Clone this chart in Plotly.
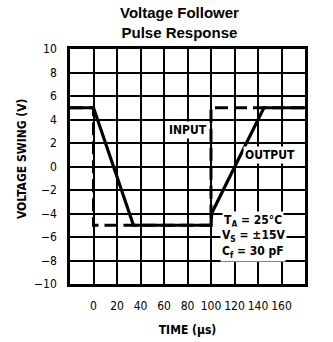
import plotly.graph_objects as go

# Data (time in microseconds, voltage in V)
input_t = [-20, 0, 0, 100, 100, 180]
input_v = [5, 5, -5, -5, 5, 5]
output_t = [-20, 0, 34, 100, 100.5, 145, 180]
output_v = [5, 5, -5, -5, -4, 5, 5]
x_ticks = [0, 20, 40, 60, 80, 100, 120, 140, 160]
y_ticks = [-10, -8, -6, -4, -2, 0, 2, 4, 6, 8, 10]

FONT = "DejaVu Sans Condensed, Liberation Sans Narrow, sans-serif"

fig = go.Figure()
fig.add_trace(go.Scatter(x=input_t, y=input_v, mode="lines",
                         line=dict(color="black", width=3, dash="13px,6px"),
                         hoverinfo="skip", showlegend=False))
fig.add_trace(go.Scatter(x=output_t, y=output_v, mode="lines",
                         line=dict(color="black", width=3.2),
                         hoverinfo="skip", showlegend=False))

fig.update_layout(
    width=333, height=342,
    margin=dict(l=70, r=28, t=49, b=58, autoexpand=False),
    paper_bgcolor="white", plot_bgcolor="white",
    font=dict(family=FONT, color="black", size=12),
    xaxis=dict(range=[-20, 180], tickvals=x_ticks, showgrid=True,
               gridcolor="black", gridwidth=1.6, zeroline=False,
               showline=True, linecolor="black", linewidth=2.5, mirror=True,
               ticks="outside", ticklen=9, tickcolor="rgba(0,0,0,0)",
               tickangle=0, automargin=False,
               tickfont=dict(family=FONT, size=12, color="black"),
               title=dict(text="<b>TIME (µs)</b>", standoff=14,
                          font=dict(family=FONT, size=12, color="black"))),
    yaxis=dict(range=[-10, 10], tickvals=y_ticks, showgrid=True,
               gridcolor="black", gridwidth=1.6, zeroline=False,
               showline=True, linecolor="black", linewidth=2.5, mirror=True,
               ticks="outside", ticklen=8, tickcolor="rgba(0,0,0,0)",
               automargin=False,
               tickfont=dict(family=FONT, size=12, color="black")),
)
fig.update_xaxes(tickprefix="<b>", ticksuffix="</b>")
fig.update_yaxes(tickprefix="<b>", ticksuffix="</b>")

fig.add_annotation(xref="paper", yref="paper", x=0.468, y=1.0, yshift=27,
                   yanchor="middle", showarrow=False,
                   text="<b>Voltage Follower<br>Pulse Response</b>",
                   font=dict(family="Liberation Sans, Arial, sans-serif", size=15, color="black"))

fig.add_annotation(xref="paper", yref="paper", x=-0.204, y=0.532,
                   xanchor="center", yanchor="middle", textangle=-90,
                   showarrow=False, text="<b>VOLTAGE SWING (V)</b>",
                   font=dict(family=FONT, size=12, color="black"))

labels = [("INPUT", 80, 3.1), ("OUTPUT", 150, 1.0),
          ("T<sub>A</sub> = 25°C", 136, -4.6),
          ("V<sub>S</sub> = ±15V", 136, -5.9),
          ("C<sub>f</sub> = 30 pF", 136, -7.3)]
for txt, x, y in labels:
    fig.add_annotation(x=x, y=y, text="<b>" + txt + "</b>", showarrow=False,
                       bgcolor="white", borderpad=1,
                       font=dict(family=FONT, size=12, color="black"))

fig.write_html("out.html")
